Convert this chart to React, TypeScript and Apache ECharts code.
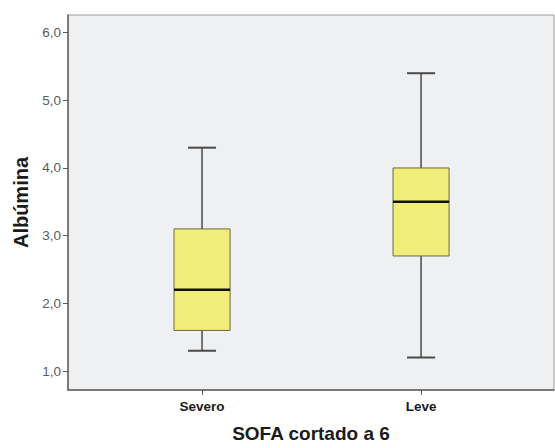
import React, { useEffect, useRef } from "react";
import * as echarts from "echarts";

const categories = ["Severo", "Leve"];
const whiskerLow = [1.3, 1.2];
const quartile1 = [1.6, 2.7];
const medians = [2.2, 3.5];
const quartile3 = [3.1, 4.0];
const whiskerHigh = [4.3, 5.4];
const yTicks = [1, 2, 3, 4, 5, 6];

export default function App() {
  const ref = useRef<HTMLDivElement>(null);
  useEffect(() => {
    if (!ref.current) return;
    const chart = echarts.init(ref.current, null, { renderer: "svg" });
    const data = categories.map((_, i) => [
      i,
      whiskerLow[i],
      quartile1[i],
      medians[i],
      quartile3[i],
      whiskerHigh[i],
    ]);
    const font = "Arial, 'Liberation Sans', sans-serif";
    chart.setOption({
      animation: false,
      grid: {
        left: 68,
        top: 15,
        width: 486,
        height: 378,
        show: true,
        backgroundColor: "#eef0f2",
        borderColor: "#9a9a9a",
        borderWidth: 1,
      },
      xAxis: {
        type: "value",
        min: -0.612,
        max: 1.607,
        name: "SOFA cortado a 6",
        nameLocation: "middle",
        nameGap: 34,
        nameTextStyle: { fontFamily: font, fontWeight: "bold", fontSize: 19, color: "#1a1a1a" },
        axisLine: { show: true, onZero: false, lineStyle: { color: "#5f5f5f", width: 1.5 } },
        axisTick: { show: true, length: 5, customValues: [0, 1], lineStyle: { color: "#5f5f5f" } },
        axisLabel: {
          customValues: [0, 1],
          formatter: (v: number) => categories[Math.round(v)] ?? "",
          fontFamily: font,
          fontWeight: "bold",
          fontSize: 13.5,
          color: "#1a1a1a",
          margin: 9,
        },
        splitLine: { show: false },
      },
      yAxis: {
        type: "value",
        min: 0.72,
        max: 6.26,
        name: "Albúmina",
        nameLocation: "middle",
        nameGap: 36,
        nameTextStyle: { fontFamily: font, fontWeight: "bold", fontSize: 20, color: "#1a1a1a" },
        axisLine: { show: true, onZero: false, lineStyle: { color: "#5f5f5f", width: 1.5 } },
        axisTick: { show: true, length: 5, customValues: yTicks, lineStyle: { color: "#5f5f5f" } },
        axisLabel: {
          customValues: yTicks,
          formatter: (v: number) => v.toFixed(1).replace(".", ","),
          fontFamily: font,
          fontSize: 13.5,
          color: "#5c5c5c",
          margin: 7,
        },
        splitLine: { show: false },
      },
      series: [
        {
          type: "custom",
          data,
          encode: { x: 0, y: [1, 2, 3, 4, 5] },
          renderItem: (params: any, api: any) => {
            const x = api.value(0);
            const pLow = api.coord([x, api.value(1)]);
            const pQ1 = api.coord([x, api.value(2)]);
            const pMed = api.coord([x, api.value(3)]);
            const pQ3 = api.coord([x, api.value(4)]);
            const pHigh = api.coord([x, api.value(5)]);
            const bw = api.size([0.256, 0])[0];
            const cw = bw / 2;
            const cx = pLow[0];
            const lineStyle = { stroke: "#4a4a4a", lineWidth: 1.5 };
            return {
              type: "group",
              children: [
                { type: "line", shape: { x1: cx, y1: pLow[1], x2: cx, y2: pQ1[1] }, style: lineStyle },
                { type: "line", shape: { x1: cx, y1: pQ3[1], x2: cx, y2: pHigh[1] }, style: lineStyle },
                { type: "line", shape: { x1: cx - cw / 2, y1: pLow[1], x2: cx + cw / 2, y2: pLow[1] }, style: { stroke: "#4a4a4a", lineWidth: 2 } },
                { type: "line", shape: { x1: cx - cw / 2, y1: pHigh[1], x2: cx + cw / 2, y2: pHigh[1] }, style: { stroke: "#4a4a4a", lineWidth: 2 } },
                {
                  type: "rect",
                  shape: { x: cx - bw / 2, y: pQ3[1], width: bw, height: pQ1[1] - pQ3[1] },
                  style: { fill: "#f2ec78", stroke: "#6b6a50", lineWidth: 1 },
                },
                { type: "line", shape: { x1: cx - bw / 2, y1: pMed[1], x2: cx + bw / 2, y2: pMed[1] }, style: { stroke: "#111", lineWidth: 2.5 } },
              ],
            };
          },
        },
      ],
    });
    return () => chart.dispose();
  }, []);
  return <div ref={ref} style={{ width: 555, height: 448, position: "absolute", left: 0, top: 0 }} />;
}
